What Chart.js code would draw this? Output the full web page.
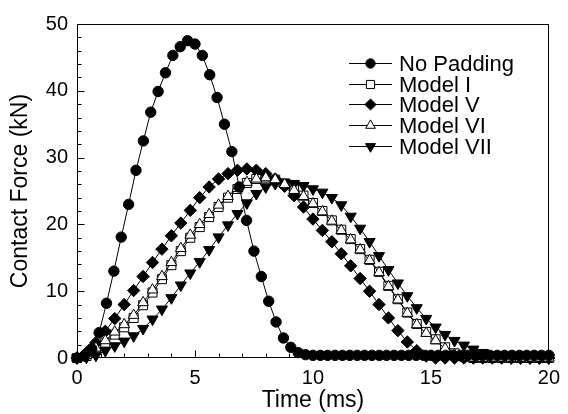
<!DOCTYPE html>
<html>
<head>
<meta charset="utf-8">
<script src="https://cdn.jsdelivr.net/npm/chart.js@4.4.1/dist/chart.umd.min.js"></script>
<style>
  html, body { margin: 0; padding: 0; background: #fff; }
  #wrap { width: 568px; height: 414px; }
</style>
</head>
<body>
<div id="wrap"><canvas id="forceChart" width="568" height="414"></canvas></div>
<script>
// --- Data ---
const padTime = [0, 0.3125, 0.625, 0.9375, 1.25, 1.5625, 1.875, 2.1875, 2.5, 2.8125,
  3.125, 3.4375, 3.75, 4.0625, 4.375, 4.6875, 5, 5.3125, 5.625, 5.9375,
  6.25, 6.5625, 6.875, 7.1875, 7.5, 7.8125, 8.125, 8.4375, 8.75, 9.0625,
  9.375, 9.6875, 10, 10.3125, 10.625, 10.9375, 11.25, 11.5625, 11.875, 12.1875,
  12.5, 12.8125, 13.125, 13.4375, 13.75, 14.0625, 14.375, 14.6875, 15, 15.3125,
  15.625, 15.9375, 16.25, 16.5625, 16.875, 17.1875, 17.5, 17.8125, 18.125, 18.4375,
  18.75, 19.0625, 19.375, 19.6875, 20];
const noPadding = [0, 0.3, 1.4, 3.8, 8.2, 13.0, 18.1, 23.0, 28.1, 32.5,
  36.8, 39.9, 42.7, 45.3, 46.6, 47.5, 47.0, 45.3, 42.4, 39.0,
  35.0, 30.9, 25.6, 20.6, 16.0, 12.2, 8.5, 5.4, 3.0, 1.6,
  0.8, 0.5, 0.4, 0.4, 0.4, 0.4, 0.4, 0.4, 0.4, 0.4,
  0.4, 0.4, 0.4, 0.4, 0.4, 0.4, 0.4, 0.4, 0.4, 0.4,
  0.4, 0.4, 0.4, 0.4, 0.4, 0.4, 0.4, 0.4, 0.4, 0.4,
  0.4, 0.4, 0.4, 0.4, 0.4];

const modelTime = [0, 0.4, 0.8, 1.2, 1.6, 2, 2.4, 2.8, 3.2, 3.6,
  4, 4.4, 4.8, 5.2, 5.6, 6, 6.4, 6.8, 7.2, 7.6,
  8, 8.4, 8.8, 9.2, 9.6, 10, 10.4, 10.8, 11.2, 11.6,
  12, 12.4, 12.8, 13.2, 13.6, 14, 14.4, 14.8, 15.2, 15.6,
  16, 16.4, 16.8, 17.2, 17.6, 18, 18.4, 18.8, 19.2, 19.6, 20];
const modelI = [0, 0.3, 1.2, 2.3, 3.5, 4.6, 6.0, 7.9, 9.8, 11.8,
  13.9, 16.0, 18.0, 19.6, 21.1, 22.6, 24.0, 25.3, 26.2, 26.8,
  27.0, 26.7, 26.1, 25.2, 24.3, 23.2, 22.0, 20.6, 19.2, 17.8,
  16.3, 14.7, 12.9, 10.8, 8.8, 6.8, 5.1, 3.9, 2.8, 1.6,
  0.7, 0.2, 0, 0, 0, 0, 0, 0, 0, 0, 0];
const modelV = [0, 0.8, 2.3, 4.0, 5.9, 8.0, 10.1, 12.2, 14.3, 16.3,
  18.3, 20.2, 22.1, 24.0, 25.6, 26.8, 27.6, 28.1, 28.3, 28.1,
  27.6, 26.8, 25.7, 24.3, 22.6, 20.8, 19.1, 17.4, 15.6, 13.8,
  11.9, 10.0, 8.0, 6.0, 4.1, 2.4, 1.1, 0.3, 0, 0,
  0, 0, 0, 0, 0, 0, 0, 0, 0, 0, 0];
const modelVI = [0, 0.4, 1.5, 2.6, 3.9, 5.0, 6.4, 8.3, 10.2, 12.2,
  14.3, 16.4, 18.4, 20.0, 21.5, 22.9, 24.2, 25.4, 26.3, 26.8,
  27.0, 26.7, 26.0, 25.1, 24.2, 23.1, 21.9, 20.5, 19.1, 17.7,
  16.2, 14.6, 12.8, 10.7, 8.7, 6.7, 5.0, 3.7, 2.6, 1.4,
  0.5, 0.1, 0, 0, 0, 0, 0, 0, 0, 0, 0];
const modelVII = [0, 0.1, 0.4, 1.1, 1.8, 2.5, 3.3, 4.4, 5.8, 7.3,
  9.0, 10.9, 12.7, 14.4, 16.2, 18.1, 19.9, 21.6, 23.2, 24.6,
  25.6, 26.1, 26.3, 26.1, 25.8, 25.3, 24.8, 24.0, 22.9, 21.2,
  19.4, 17.4, 15.3, 13.2, 11.2, 9.3, 7.5, 5.9, 4.6, 3.5,
  2.6, 1.9, 1.3, 0.8, 0.4, 0.1, 0, 0, 0, 0, 0];

const seriesNames = ['No Padding', 'Model I', 'Model V', 'Model VI', 'Model VII'];

// axis ranges / tick steps
const xMax = 20, xMajor = 5, xMinor = 1;
const yMax = 50, yMajor = 10, yMinor = 2;

const FONT = '"Liberation Sans", Arial, Helvetica, sans-serif';

const pts = (xs, ys) => xs.map((t, i) => ({ x: t, y: ys[i] }));

// marker look for each series (same order as seriesNames)
const markers = [
  { pointStyle: 'circle', radius: 5.2, rotation: 0, fill: '#000' },
  { pointStyle: 'rect', radius: 6.4, rotation: 0, fill: '#fff' },
  { pointStyle: 'rectRot', radius: 6.2, rotation: 0, fill: '#000' },
  { pointStyle: 'triangle', radius: 6.2, rotation: 0, fill: '#fff' },
  { pointStyle: 'triangle', radius: 6.4, rotation: 180, fill: '#000' }
];
const seriesData = [
  pts(padTime, noPadding),
  pts(modelTime, modelI),
  pts(modelTime, modelV),
  pts(modelTime, modelVI),
  pts(modelTime, modelVII)
];
// lower order = drawn on top
const drawOrder = [0, 4, 2, 1, 3];

const datasets = seriesNames.map((name, i) => ({
  label: name,
  data: seriesData[i],
  order: drawOrder[i],
  borderColor: '#000',
  borderWidth: 1,
  backgroundColor: markers[i].fill,
  pointStyle: markers[i].pointStyle,
  pointRadius: markers[i].radius,
  pointRotation: markers[i].rotation,
  pointBackgroundColor: markers[i].fill,
  pointBorderColor: '#000',
  pointBorderWidth: 1,
  tension: 0,
  clip: false
}));

// --- frame + inward ticks ---
const frameTicks = {
  id: 'frameTicks',
  beforeDatasetsDraw(chart) {
    const { ctx, chartArea: a, scales: { x, y } } = chart;
    const L = Math.round(a.left) + 0.5, R = Math.round(a.right) - 0.5;
    const T = Math.round(a.top) + 0.5, B = Math.round(a.bottom) - 0.5;
    ctx.save();
    ctx.strokeStyle = '#000';
    ctx.lineWidth = 1;
    ctx.strokeRect(L, T, R - L, B - T);
    ctx.beginPath();
    for (let v = 0; v <= yMax; v += yMinor) {
      const py = Math.round(y.getPixelForValue(v)) + 0.5;
      const len = v % yMajor === 0 ? 7 : 4;
      ctx.moveTo(L, py); ctx.lineTo(L + len, py);
    }
    for (let v = 0; v <= xMax; v += xMinor) {
      const px = Math.round(x.getPixelForValue(v)) + 0.5;
      const len = v % xMajor === 0 ? 7 : 4;
      ctx.moveTo(px, B); ctx.lineTo(px, B - len);
    }
    ctx.stroke();
    ctx.restore();
  }
};

// --- legend: line + marker + text ---
const lineLegend = {
  id: 'lineLegend',
  afterDraw(chart) {
    const { ctx } = chart;
    const x0 = 349, x1 = 392, tx = 399, y0 = 63, dy = 20.7;
    ctx.save();
    ctx.font = '22px ' + FONT;
    ctx.textBaseline = 'middle';
    seriesNames.forEach((name, i) => {
      const yy = Math.round(y0 + i * dy) + 0.5;
      ctx.strokeStyle = '#000';
      ctx.lineWidth = 1;
      ctx.beginPath();
      ctx.moveTo(x0, yy); ctx.lineTo(x1, yy);
      ctx.stroke();
      ctx.fillStyle = markers[i].fill;
      Chart.helpers.drawPoint(ctx, {
        pointStyle: markers[i].pointStyle,
        radius: markers[i].radius * 0.9,
        rotation: markers[i].rotation,
        borderWidth: 1
      }, (x0 + x1) / 2, yy);
      ctx.fillStyle = '#000';
      ctx.fillText(name, tx, yy + 1);
    });
    ctx.restore();
  }
};

new Chart(document.getElementById('forceChart').getContext('2d'), {
  type: 'line',
  data: { datasets: datasets },
  options: {
    responsive: false,
    animation: false,
    devicePixelRatio: 1,
    layout: { padding: { left: 0, right: 14, top: 24, bottom: 0 } },
    plugins: {
      legend: { display: false },
      tooltip: { enabled: false }
    },
    scales: {
      x: {
        type: 'linear',
        min: 0,
        max: xMax,
        grid: { display: false, drawTicks: false },
        border: { display: false },
        ticks: {
          stepSize: xMajor,
          color: '#000',
          padding: 8,
          maxRotation: 0,
          font: { family: FONT, size: 20 }
        },
        title: {
          display: true,
          text: 'Time (ms)',
          color: '#000',
          padding: { top: 0, bottom: 0 },
          font: { family: FONT, size: 23 }
        },
        afterFit: (scale) => { scale.height = 56; }
      },
      y: {
        type: 'linear',
        min: 0,
        max: yMax,
        grid: { display: false, drawTicks: false },
        border: { display: false },
        ticks: {
          stepSize: yMajor,
          color: '#000',
          padding: 9,
          font: { family: FONT, size: 20 }
        },
        title: {
          display: true,
          text: 'Contact Force (kN)',
          color: '#000',
          padding: { top: 7, bottom: 0 },
          font: { family: FONT, size: 23 }
        },
        afterFit: (scale) => { scale.width = 77; }
      }
    }
  },
  plugins: [frameTicks, lineLegend]
});
</script>
</body>
</html>
